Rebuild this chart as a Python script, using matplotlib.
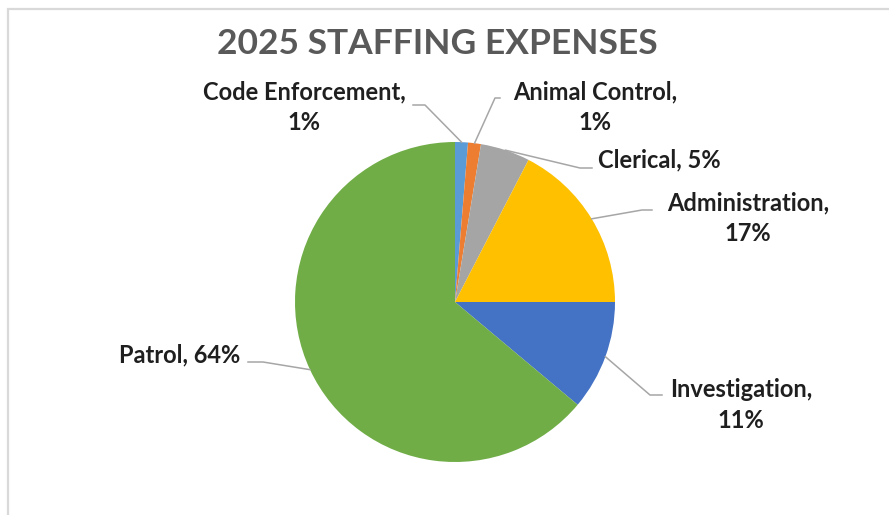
import numpy as np
import matplotlib.pyplot as plt

# staffing expense shares (percent), clockwise from 12 o'clock
departments = ["Code Enforcement", "Animal Control", "Clerical",
               "Administration", "Investigation", "Patrol"]
shares = [1.3, 1.3, 5.0, 17.4, 11.1, 63.9]
colors = ["#5B9BD5", "#ED7D31", "#A5A5A5", "#FFC000", "#4472C4", "#70AD47"]

W, H = 889, 515
plt.rcParams['font.family'] = ['Lato', 'DejaVu Sans']

fig = plt.figure(figsize=(W / 100, H / 100), dpi=100)
ax = fig.add_axes([0, 0, 1, 1])
ax.set_xlim(0, W)
ax.set_ylim(0, H)
ax.set_aspect('equal')
ax.axis('off')

def py(y):
    # pixel row (from top) -> data y
    return H - y

cx, cy, r = 455, py(302), 160
wedges, _ = ax.pie(shares, colors=colors, startangle=90, counterclock=False,
                   center=(cx, cy), radius=r, wedgeprops=dict(linewidth=0))
ax.set_xlim(0, W)
ax.set_ylim(0, H)

# chart frame, cut off on the right and bottom
ax.plot([8, 8, W], [0, py(9), py(9)], color="#d9d9d9", lw=1.6,
        solid_capstyle='butt', solid_joinstyle='miter')

ax.text(437, py(44), "2025 STAFFING EXPENSES", ha='center', va='center',
        fontsize=25.5, fontweight='bold', color="#595959")

# label centre and leader elbow (x0 at label, x1 elbow, y)
label_pos = [(304, 107), (595, 107), (659, 160), (748, 218), (741, 405), (180, 355)]
elbows = [(413, 425, 105), (500, 495, 98), (592, 580, 168),
          (652, 642, 210), (662, 650, 395), (248, 263, 362)]

for w, name, val, (tx, ty), (x0, x1, ey) in zip(wedges, departments, shares,
                                                label_pos, elbows):
    pct = "%d%%" % round(val)
    if name in ("Clerical", "Patrol"):
        txt = "%s, %s" % (name, pct)
    else:
        txt = "%s,\n%s" % (name, pct)
    ax.text(tx, py(ty), txt, ha='center', va='center', multialignment='center',
            fontsize=17, fontweight='bold', color="#1f1f1f", linespacing=1.4)
    mid = np.deg2rad((w.theta1 + w.theta2) / 2)
    px_ = cx + r * np.cos(mid)
    py_ = cy + r * np.sin(mid)
    ax.plot([x0, x1, px_], [py(ey), py(ey), py_], color="#a6a6a6", lw=1.1)

fig.savefig("out.png", dpi=100)
